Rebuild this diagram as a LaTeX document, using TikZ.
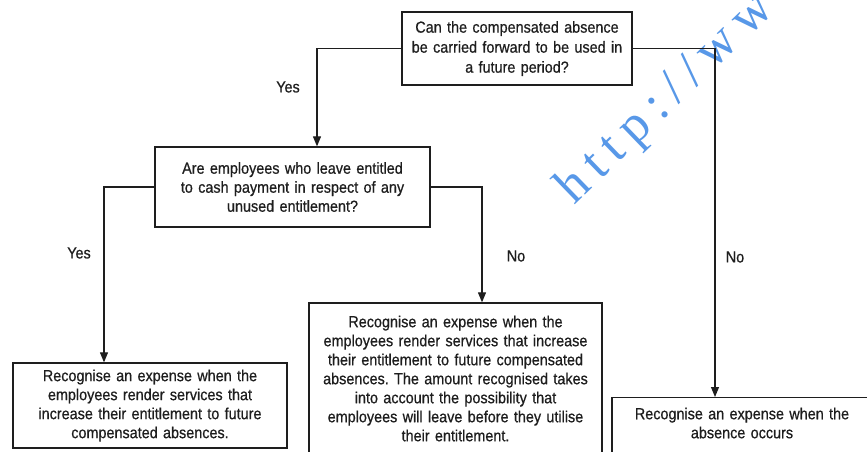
\documentclass[tikz,border=0pt]{standalone}
\usepackage{fontspec}
\setmainfont{Liberation Sans}[FakeStretch=0.9,FakeBold=0.6]
\newfontfamily\wmfont{Liberation Serif}
\usetikzlibrary{arrows.meta}
\definecolor{ink}{RGB}{30,30,30}
\definecolor{wmblue}{RGB}{88,152,232}
\frenchspacing
\begin{document}
\begin{tikzpicture}[x=1pt,y=-1pt,
  box/.style={draw=ink, line width=1.3pt, align=center, inner xsep=3pt, inner ysep=0pt,
    text=ink, font=\fontsize{16}{19}\selectfont},
  conn/.style={draw=ink, line width=1.1pt, -{Triangle[length=10pt,width=8pt]}},
  lbl/.style={text=ink, font=\fontsize{16}{19}\selectfont, inner sep=0pt},
  wmark/.style={text=wmblue, rotate=44, anchor=base west, inner sep=0pt,
    font=\wmfont\fontsize{52}{52}\selectfont}]
\clip (0,0) rectangle (867,451);
\fill[white] (0,0) rectangle (867,451);

% watermark
\node[wmark] (wm) at (574,206) {h\kern10pt t\kern10pt t\kern10pt p\kern10pt :\kern10pt /\kern10pt /\kern10pt w\kern10pt w\kern10pt w\kern10pt .};

% boxes
\node[box, text width=224pt, minimum height=73pt, font=\fontsize{16}{20}\selectfont] (q1) at (517,48.5)
  {Can the compensated absence\\be carried forward to be used in\\a future period?};
\node[box, text width=269pt, minimum height=80pt] (q2) at (292.5,187)
  {Are employees who leave entitled\\to cash payment in respect of any\\unused entitlement?};
\node[box, text width=268pt, minimum height=85pt] (a1) at (150,405.5)
  {Recognise an expense when the\\employees render services that\\increase their entitlement to future\\compensated absences.};
\node[box, text width=287pt, minimum height=151pt] (a2) at (455.5,378.5)
  {Recognise an expense when the\\employees render services that increase\\their entitlement to future compensated\\absences. The amount recognised takes\\into account the possibility that\\employees will leave before they utilise\\their entitlement.};
\node[box, text width=254pt, anchor=north, inner ysep=10pt, text depth=40pt] (a3) at (742,397)
  {Recognise an expense when the\\absence occurs};

% connector columns
\coordinate (k1) at (317,0);
\coordinate (k2) at (715,0);
\coordinate (k3) at (104,0);
\coordinate (k4) at (482,0);

\draw[conn] (q1.west) -| (q2.north -| k1);
\draw[conn] (q1.east) -| (a3.north -| k2);
\draw[conn] (q2.west) -| (a1.north -| k3);
\draw[conn] (q2.east) -| (a2.north -| k4);

% labels
\node[lbl] (yes1) at (288,87) {Yes};
\node[lbl] (no1) at (735,257) {No};
\node[lbl] (yes2) at (79,253) {Yes};
\node[lbl] (no2) at (516,256) {No};
\end{tikzpicture}
\end{document}
